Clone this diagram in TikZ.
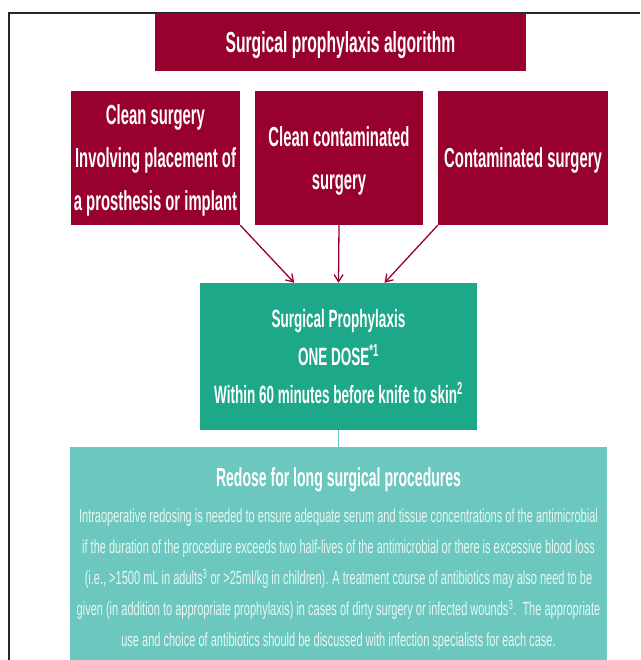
\documentclass[tikz,border=0pt]{standalone}
\usepackage{fontspec}
\setmainfont{Liberation Sans}[FakeStretch=0.58,BoldFeatures={FakeStretch=0.54}]
\usetikzlibrary{positioning,arrows.meta}
\definecolor{algred}{RGB}{152,0,46}
\definecolor{dosegreen}{RGB}{30,168,138}
\definecolor{redoseteal}{RGB}{108,200,190}
\definecolor{bodytext}{RGB}{232,246,244}
\newcommand{\redosehead}{\fontsize{26}{30}\selectfont\bfseries\color{white}}
\tikzset{
  redbox/.style={fill=algred, text=white, inner sep=0pt, align=center, text depth=0pt},
  flowarrow/.style={draw=algred, line width=1.3pt, -{Straight Barb[length=7pt,width=9pt]}}
}
\begin{document}
\begin{tikzpicture}[x=1pt,y=-1pt]
\useasboundingbox (0,0) rectangle (640,660);
\clip (0,0) rectangle (640,660);
\draw[line width=1.6pt, black!85] (9,660) -- (9,13) -- (640,13);

\node[redbox, minimum width=371, minimum height=58, font=\fontsize{29}{34}\selectfont\bfseries] (title) at (340.5,42) {Surgical prophylaxis algorithm};

\node[redbox, minimum width=169, minimum height=134, font=\fontsize{27.5}{43}\selectfont\bfseries] (clean) at (155.5,158)
  {Clean surgery\\Involving placement of\\a prosthesis or implant};
\node[redbox, minimum width=168, minimum height=134, font=\fontsize{27.5}{43}\selectfont\bfseries] (cleancont) at (339,158)
  {Clean contaminated\\surgery};
\node[redbox, minimum width=170, minimum height=134, font=\fontsize{27.5}{43}\selectfont\bfseries] (contam) at (523,158)
  {Contaminated surgery};

\node[fill=dosegreen, text=white, inner sep=0pt, align=center, minimum width=277, minimum height=147,
  font=\fontsize{25}{38}\selectfont\bfseries] (proph) at (338.5,356.5)
  {Surgical Prophylaxis\\ONE DOSE\textsuperscript{*1}\\Within 60 minutes before knife to skin\textsuperscript{2}};

\node[fill=redoseteal, text=bodytext, inner sep=0pt, align=center, minimum width=537, minimum height=224,
  font=\fontsize{19}{31}\selectfont] (redose) at (338.5,559)
  {{\redosehead Redose for long surgical procedures}\\[5pt]
   Intraoperative redosing is needed to ensure adequate serum and tissue concentrations of the antimicrobial\\
   if the duration of the procedure exceeds two half-lives of the antimicrobial or there is excessive blood loss\\
   (i.e., >1500 mL in adults\textsuperscript{3} or >25ml/kg in children). A treatment course of antibiotics may also need to be\\
   given (in addition to appropriate prophylaxis) in cases of dirty surgery or infected wounds\textsuperscript{3}.~~The appropriate\\
   use and choice of antibiotics should be discussed with infection specialists for each case.};

\draw[flowarrow] (clean.south east) -- (proph.121.6);
\draw[flowarrow] (cleancont.south) -- (proph.north);
\draw[flowarrow] (contam.south west) -- (proph.58.4);
\draw[line width=1.2pt, redoseteal] (proph.south) -- (proph.south |- redose.north);
\end{tikzpicture}
\end{document}
